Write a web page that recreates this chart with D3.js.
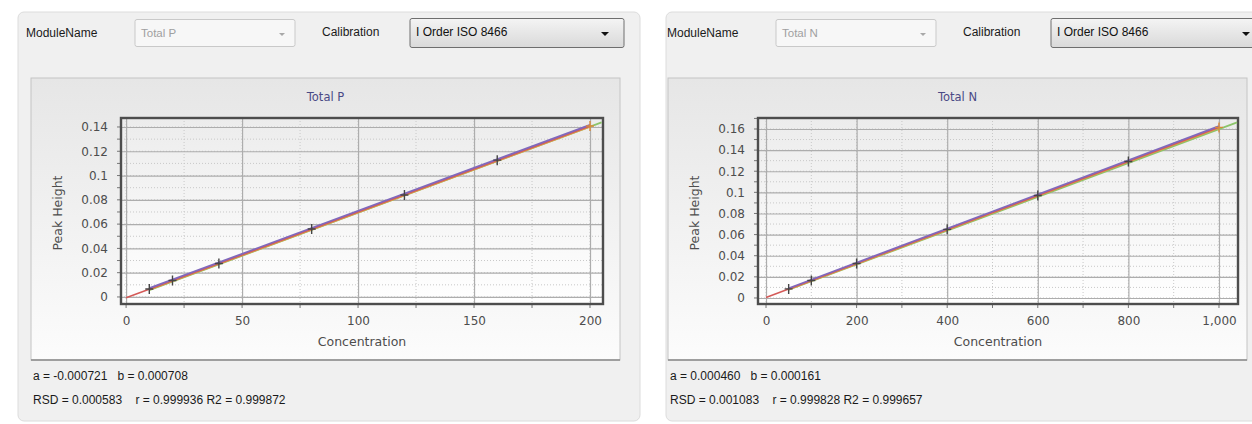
<!DOCTYPE html>
<html>
<head>
<meta charset="utf-8">
<script src="https://cdn.jsdelivr.net/npm/d3@7"></script>
<style>
  html, body { margin: 0; padding: 0; background: #ffffff; }
  svg { display: block; }
  text { white-space: pre; }
</style>
</head>
<body>
<svg id="chart" width="1252" height="424"></svg>
<script>
// ---------------- DATA ----------------
const moduleNames = ["Total P", "Total N"];
const calibrationName = "I Order ISO 8466";
const axisTitleX = "Concentration";
const axisTitleY = "Peak Height";

// Total P
const pConc = [10, 20, 40, 80, 120, 160, 200];
const pPeak = [0.0066, 0.0135, 0.0275, 0.0560, 0.0840, 0.1127, 0.1408];
const pXTicks = [0, 50, 100, 150, 200];
const pYTicks = [0, 0.02, 0.04, 0.06, 0.08, 0.1, 0.12, 0.14];
const pFitLine = [[0, -0.0007], [200, 0.1409]];
const pUpperLine = [[10, 0.0072], [200, 0.1418]];
const pMidLine = [[10, 0.0061], [200, 0.1403]];
const pLowerLine = [[10, 0.0056], [205, 0.1438]];
const pStats = ["a = -0.000721   b = 0.000708", "RSD = 0.000583    r = 0.999936 R2 = 0.999872"];

// Total N
const nConc = [50, 100, 200, 400, 600, 800, 1000];
const nPeak = [0.0086, 0.0165, 0.0327, 0.0650, 0.0970, 0.1292, 0.1615];
const nXTicks = [0, 200, 400, 600, 800, 1000];
const nYTicks = [0, 0.02, 0.04, 0.06, 0.08, 0.1, 0.12, 0.14, 0.16];
const nFitLine = [[0, 0.0005], [1000, 0.1616]];
const nUpperLine = [[50, 0.0092], [1000, 0.1627]];
const nMidLine = [[50, 0.0082], [1000, 0.1610]];
const nLowerLine = [[50, 0.0078], [1040, 0.1662]];
const nStats = ["a = 0.000460   b = 0.000161", "RSD = 0.001083    r = 0.999828 R2 = 0.999657"];

// ---------------- LAYOUT ----------------
const svg = d3.select("#chart");
const defs = svg.append("defs");

const g1 = defs.append("linearGradient").attr("id", "boxGrad").attr("x1", 0).attr("y1", 0).attr("x2", 0).attr("y2", 1);
g1.append("stop").attr("offset", "0%").attr("stop-color", "#e6e6e6");
g1.append("stop").attr("offset", "100%").attr("stop-color", "#fcfcfc");
const g2 = defs.append("linearGradient").attr("id", "plotGrad").attr("x1", 0).attr("y1", 0).attr("x2", 0).attr("y2", 1);
g2.append("stop").attr("offset", "0%").attr("stop-color", "#ececec");
g2.append("stop").attr("offset", "100%").attr("stop-color", "#ffffff");
const g3 = defs.append("linearGradient").attr("id", "comboGrad").attr("x1", 0).attr("y1", 0).attr("x2", 0).attr("y2", 1);
g3.append("stop").attr("offset", "0%").attr("stop-color", "#f4f4f4");
g3.append("stop").attr("offset", "100%").attr("stop-color", "#d9d9d9");

const uiFont = "'Liberation Sans', Arial, sans-serif";
const chartFont = "'DejaVu Sans', Verdana, sans-serif";

const panels = [
  {
    dx: 0, labelDx: 0, panelW: 622, boxW: 589,
    module: moduleNames[0], conc: pConc, peak: pPeak, xTicks: pXTicks, yTicks: pYTicks,
    fit: pFitLine, upper: pUpperLine, mid: pMidLine, lower: pLowerLine, stats: pStats,
    plot: { x0: 121, x1: 603, y0: 118, y1: 304 },
    xDomain: [-2.2, 205.6], yDomain: [-0.0058, 0.1474],
    xMinorStep: 25, yMinorStep: 0.01, xFmt: d3.format(","), yFmt: d => String(+d.toFixed(2))
  },
  {
    dx: 637, labelDx: 4, panelW: 640, boxW: 579,
    module: moduleNames[1], conc: nConc, peak: nPeak, xTicks: nXTicks, yTicks: nYTicks,
    fit: nFitLine, upper: nUpperLine, mid: nMidLine, lower: nLowerLine, stats: nStats,
    plot: { x0: 758, x1: 1238, y0: 118, y1: 304 },
    xDomain: [-17.7, 1042], yDomain: [-0.0057, 0.1704],
    xMinorStep: 100, yMinorStep: 0.01, xFmt: d3.format(","), yFmt: d => String(+d.toFixed(2))
  }
];

panels.forEach(drawPanel);

function drawPanel(c) {
  const g = svg.append("g");
  const dx = c.dx, ldx = c.dx + c.labelDx;
  // panel background
  g.append("rect").attr("x", 18 + dx + (dx ? 11 : 0)).attr("y", 12).attr("width", c.panelW - (dx ? 11 : 0)).attr("height", 409)
    .attr("rx", 6).attr("fill", "#f0f0f0").attr("stroke", "#dcdcdc");

  // ModuleName label + combo
  g.append("text").attr("x", 26 + ldx).attr("y", 37).attr("font-family", uiFont).attr("font-size", 12)
    .attr("fill", "#1a1a1a").text("ModuleName");
  g.append("rect").attr("x", 135 + ldx).attr("y", 19.5).attr("width", 160).attr("height", 27).attr("rx", 2)
    .attr("fill", "#f7f7f7").attr("stroke", "#c9c9c9");
  g.append("text").attr("x", 141 + ldx).attr("y", 37).attr("font-family", uiFont).attr("font-size", 11.5)
    .attr("fill", "#a0a0a0").text(c.module);
  g.append("path").attr("d", `M${279 + ldx},${33} l6,0 l-3,3 z`).attr("fill", "#a8a8a8");

  // Calibration label + combo
  g.append("text").attr("x", 322 + ldx).attr("y", 36).attr("font-family", uiFont).attr("font-size", 12)
    .attr("fill", "#1a1a1a").text("Calibration");
  g.append("rect").attr("x", 410 + ldx).attr("y", 18.5).attr("width", 214).attr("height", 29).attr("rx", 2)
    .attr("fill", "url(#comboGrad)").attr("stroke", "#6e6e6e");
  g.append("text").attr("x", 416 + ldx).attr("y", 36).attr("font-family", uiFont).attr("font-size", 12)
    .attr("fill", "#111").text(calibrationName);
  g.append("path").attr("d", `M${601 + ldx},${32} l8,0 l-4,4 z`).attr("fill", "#111");

  // chart box
  g.append("rect").attr("x", 31 + dx).attr("y", 78).attr("width", c.boxW).attr("height", 282)
    .attr("fill", "url(#boxGrad)").attr("stroke", "#c4c4c4");
  g.append("line").attr("x1", 31 + dx).attr("x2", 31 + dx + c.boxW).attr("y1", 360).attr("y2", 360)
    .attr("stroke", "#8a8a8a").attr("stroke-width", 1.5);
  g.append("text").attr("x", 31 + dx + c.boxW / 2).attr("y", 101).attr("text-anchor", "middle")
    .attr("font-family", chartFont).attr("font-size", 11.5).attr("fill", "#4a4a86").text(c.module);

  const p = c.plot;
  const x = d3.scaleLinear().domain(c.xDomain).range([p.x0, p.x1]);
  const y = d3.scaleLinear().domain(c.yDomain).range([p.y1, p.y0]);

  g.append("rect").attr("x", p.x0).attr("y", p.y0).attr("width", p.x1 - p.x0).attr("height", p.y1 - p.y0)
    .attr("fill", "url(#plotGrad)");

  // minor grid (dotted)
  const xMin = d3.range(Math.ceil(c.xDomain[0] / c.xMinorStep) * c.xMinorStep, c.xDomain[1], c.xMinorStep);
  const yMin = d3.range(0, c.yDomain[1], c.yMinorStep);
  g.append("g").selectAll("line").data(xMin).join("line")
    .attr("x1", d => x(d)).attr("x2", d => x(d)).attr("y1", p.y0).attr("y2", p.y1)
    .attr("stroke", "#c8c8c8").attr("stroke-dasharray", "1,2");
  g.append("g").selectAll("line").data(yMin).join("line")
    .attr("y1", d => y(d)).attr("y2", d => y(d)).attr("x1", p.x0).attr("x2", p.x1)
    .attr("stroke", "#c8c8c8").attr("stroke-dasharray", "1,2");

  // major grid via axes
  const xAxis = d3.axisBottom(x).tickValues(c.xTicks).tickSize(-(p.y1 - p.y0)).tickFormat(c.xFmt).tickPadding(12);
  const yAxis = d3.axisLeft(y).tickValues(c.yTicks).tickSize(-(p.x1 - p.x0)).tickFormat(c.yFmt).tickPadding(13);
  const gx = g.append("g").attr("transform", `translate(0,${p.y1})`).call(xAxis);
  const gy = g.append("g").attr("transform", `translate(${p.x0},0)`).call(yAxis);
  [gx, gy].forEach(a => {
    a.select(".domain").remove();
    a.selectAll(".tick line").attr("stroke", "#adadad").attr("stroke-width", 1.2);
    a.selectAll(".tick text").attr("font-family", chartFont).attr("font-size", 12).attr("fill", "#4d4d4d");
  });

  // small tick marks on frame
  g.append("g").selectAll("line").data(xMin).join("line")
    .attr("x1", d => x(d)).attr("x2", d => x(d)).attr("y1", p.y1).attr("y2", p.y1 + 4)
    .attr("stroke", "#777");
  g.append("g").selectAll("line").data(yMin).join("line")
    .attr("y1", d => y(d)).attr("y2", d => y(d)).attr("x1", p.x0 - 4).attr("x2", p.x0)
    .attr("stroke", "#777");

  // frame
  g.append("rect").attr("x", p.x0).attr("y", p.y0).attr("width", p.x1 - p.x0).attr("height", p.y1 - p.y0)
    .attr("fill", "none").attr("stroke", "#4d4d4d").attr("stroke-width", 2.4);

  // axis titles
  g.append("text").attr("x", (p.x0 + p.x1) / 2).attr("y", p.y1 + 42).attr("text-anchor", "middle")
    .attr("font-family", chartFont).attr("font-size", 12.5).attr("fill", "#4d4d4d").text(axisTitleX);
  g.append("text").attr("transform", `translate(${p.x0 - 59},${(p.y0 + p.y1) / 2 + 2}) rotate(-90)`)
    .attr("text-anchor", "middle").attr("font-family", chartFont).attr("font-size", 12.5).attr("fill", "#4d4d4d")
    .text(axisTitleY);

  // lines
  const line = d3.line().x(d => x(d[0])).y(d => y(d[1]));
  const clip = "clip" + dx;
  defs.append("clipPath").attr("id", clip).append("rect")
    .attr("x", p.x0).attr("y", p.y0).attr("width", p.x1 - p.x0).attr("height", p.y1 - p.y0);
  const lg = g.append("g").attr("clip-path", `url(#${clip})`);
  lg.append("path").attr("d", line(c.lower)).attr("fill", "none").attr("stroke", "#8cc46a").attr("stroke-width", 1.8);
  lg.append("path").attr("d", line(c.mid)).attr("fill", "none").attr("stroke", "#dca24a").attr("stroke-width", 2);
  lg.append("path").attr("d", line(c.fit)).attr("fill", "none").attr("stroke", "#d45a58").attr("stroke-width", 1.6);
  lg.append("path").attr("d", line(c.upper)).attr("fill", "none").attr("stroke", "#8068bc").attr("stroke-width", 1.8);

  // markers
  const pts = c.conc.map((v, i) => [v, c.peak[i]]);
  lg.append("g").selectAll("path").data(pts).join("path")
    .attr("d", d => `M${x(d[0]) - 4},${y(d[1])} h8 M${x(d[0])},${y(d[1]) - 5} v10`)
    .attr("stroke", (d, i) => i === pts.length - 1 ? "#d98a3a" : "#454545").attr("stroke-width", 1.4);

  // stats text
  g.append("text").attr("x", 33 + dx).attr("y", 380).attr("font-family", uiFont).attr("font-size", 12)
    .attr("fill", "#1a1a1a").text(c.stats[0]);
  g.append("text").attr("x", 33 + dx).attr("y", 404).attr("font-family", uiFont).attr("font-size", 12)
    .attr("fill", "#1a1a1a").text(c.stats[1]);
}
</script>
</body>
</html>
